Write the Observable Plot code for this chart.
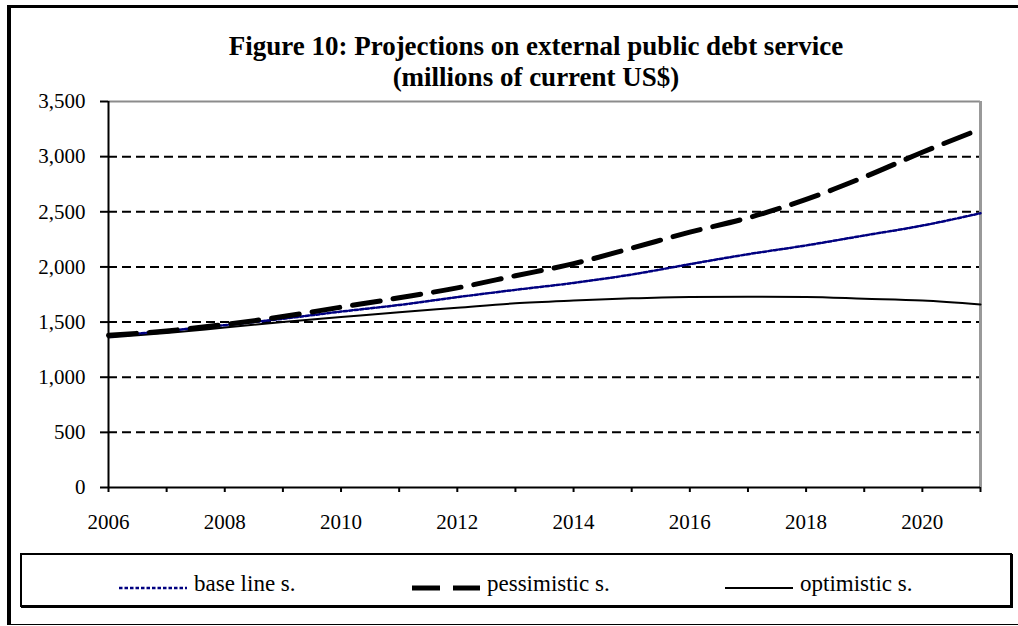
<!DOCTYPE html>
<html>
<head>
<meta charset="utf-8">
<script src="https://cdn.jsdelivr.net/npm/d3@7"></script>
<script src="https://cdn.jsdelivr.net/npm/@observablehq/plot@0.6"></script>
<style>
  body { margin: 0; background: #fff; font-family: "Liberation Serif", "Times New Roman", serif; }
  #wrap { position: relative; width: 1018px; height: 626px; overflow: hidden; background: #fff; }
  #frame { position: absolute; left: 7px; top: 5px; width: 1100px; height: 616px;
           border-left: 4px solid #000; border-top: 3px solid #000; border-bottom: 1px solid #000; }
  #title { position: absolute; left: 0; top: 31px; width: 1072px; text-align: center;
           font-weight: bold; font-size: 27px; line-height: 31px; color: #000; }
  #chart { position: absolute; left: 0; top: 90px; }
  #legendBox { position: absolute; left: 20px; top: 553px; width: 988px; height: 50px;
               border: 2px solid #000; box-shadow: 1px 1px 0 #000; }
  .legText { position: absolute; font-size: 23px; line-height: 24px; color: #000; white-space: nowrap; }
  .legSw { position: absolute; }
</style>
</head>
<body>
<div id="wrap">
  <div id="frame"></div>
  <div id="title"></div>
  <div id="chart"></div>
  <div id="legendBox"></div>
</div>
<script>
// ---- Data ----
const years = [2006, 2007, 2008, 2009, 2010, 2011, 2012, 2013, 2014, 2015, 2016, 2017, 2018, 2019, 2020, 2021];
const baseLine = [1370, 1420, 1472, 1530, 1595, 1655, 1726, 1792, 1855, 1931, 2025, 2115, 2195, 2285, 2375, 2487];
const pessimistic = [1380, 1420, 1478, 1550, 1635, 1720, 1810, 1920, 2030, 2170, 2315, 2445, 2612, 2815, 3040, 3250];
const optimistic = [1360, 1400, 1450, 1500, 1545, 1590, 1630, 1670, 1695, 1715, 1728, 1730, 1728, 1712, 1695, 1660];
const seriesNames = ["base line s.", "pessimistic s.", "optimistic s."];
const yTicks = [0, 500, 1000, 1500, 2000, 2500, 3000, 3500];
const xLabelYears = [2006, 2008, 2010, 2012, 2014, 2016, 2018, 2020];
const titleLines = ["Figure 10: Projections on external public debt service", "(millions of current US$)"];

// ---- Title ----
document.getElementById("title").innerHTML = titleLines.join("<br>");

// ---- Table ----
const seriesValues = [baseLine, pessimistic, optimistic];
const rows = [];
seriesNames.forEach((name, s) => {
  years.forEach((yr, i) => rows.push({ year: yr, value: seriesValues[s][i], series: name }));
});
const styles = {
  "base line s.": { stroke: "#000080", strokeWidth: 2.5, dash: "3.5,2" },
  "pessimistic s.": { stroke: "#000", strokeWidth: 5, dash: "28,13" },
  "optimistic s.": { stroke: "#000", strokeWidth: 2, dash: null }
};
const drawOrder = ["optimistic s.", "base line s.", "pessimistic s."];

const lineMarks = drawOrder.map(name => Plot.line(rows.filter(r => r.series === name), {
  x: "year", y: "value",
  stroke: styles[name].stroke, strokeWidth: styles[name].strokeWidth,
  strokeDasharray: styles[name].dash, curve: "monotone-x"
}));

const chart = Plot.plot({
  width: 1018, height: 450,
  marginTop: 11, marginBottom: 53, marginLeft: 108, marginRight: 38,
  style: { fontFamily: '"Liberation Serif", "Times New Roman", serif', fontSize: "21px", color: "#000", background: "transparent", overflow: "visible" },
  x: { domain: [2006, 2021] },
  y: { domain: [0, 3500] },
  marks: [
    Plot.ruleY(yTicks.filter(d => d > 0 && d < 3500), { stroke: "#000", strokeWidth: 2, strokeDasharray: "9,5" }),
    Plot.ruleY([3500], { stroke: "#8c8c8c", strokeWidth: 2 }),
    Plot.ruleX([2021], { stroke: "#999", strokeWidth: 3 }),
    ...lineMarks,
    Plot.ruleX([2006], { stroke: "#000", strokeWidth: 2 }),
    Plot.ruleY([0], { stroke: "#000", strokeWidth: 2 }),
    Plot.axisY({ ticks: yTicks, tickFormat: d3.format(","), tickSize: 8, tickPadding: 15, strokeWidth: 2, label: null }),
    Plot.axisX({ ticks: years, tickFormat: d => xLabelYears.includes(d) ? String(d) : "", tickSize: 5, tickPadding: 22, strokeWidth: 2, label: null })
  ]
});
document.getElementById("chart").appendChild(chart);

// ---- Legend ----
const wrap = document.getElementById("wrap");
const legendX = [119, 412, 725];
seriesNames.forEach((name, i) => {
  const st = styles[name];
  const svg = d3.create("svg").attr("class", "legSw").attr("width", 68).attr("height", 10)
    .style("left", legendX[i] + "px").style("top", "583px");
  svg.append("line").attr("x1", 0).attr("x2", 68).attr("y1", 5).attr("y2", 5)
    .attr("stroke", st.stroke).attr("stroke-width", st.strokeWidth)
    .attr("stroke-dasharray", st.dash);
  wrap.appendChild(svg.node());
  const t = document.createElement("div");
  t.className = "legText";
  t.textContent = name;
  t.style.left = (legendX[i] + 75) + "px";
  t.style.top = "572px";
  wrap.appendChild(t);
});
</script>
</body>
</html>
